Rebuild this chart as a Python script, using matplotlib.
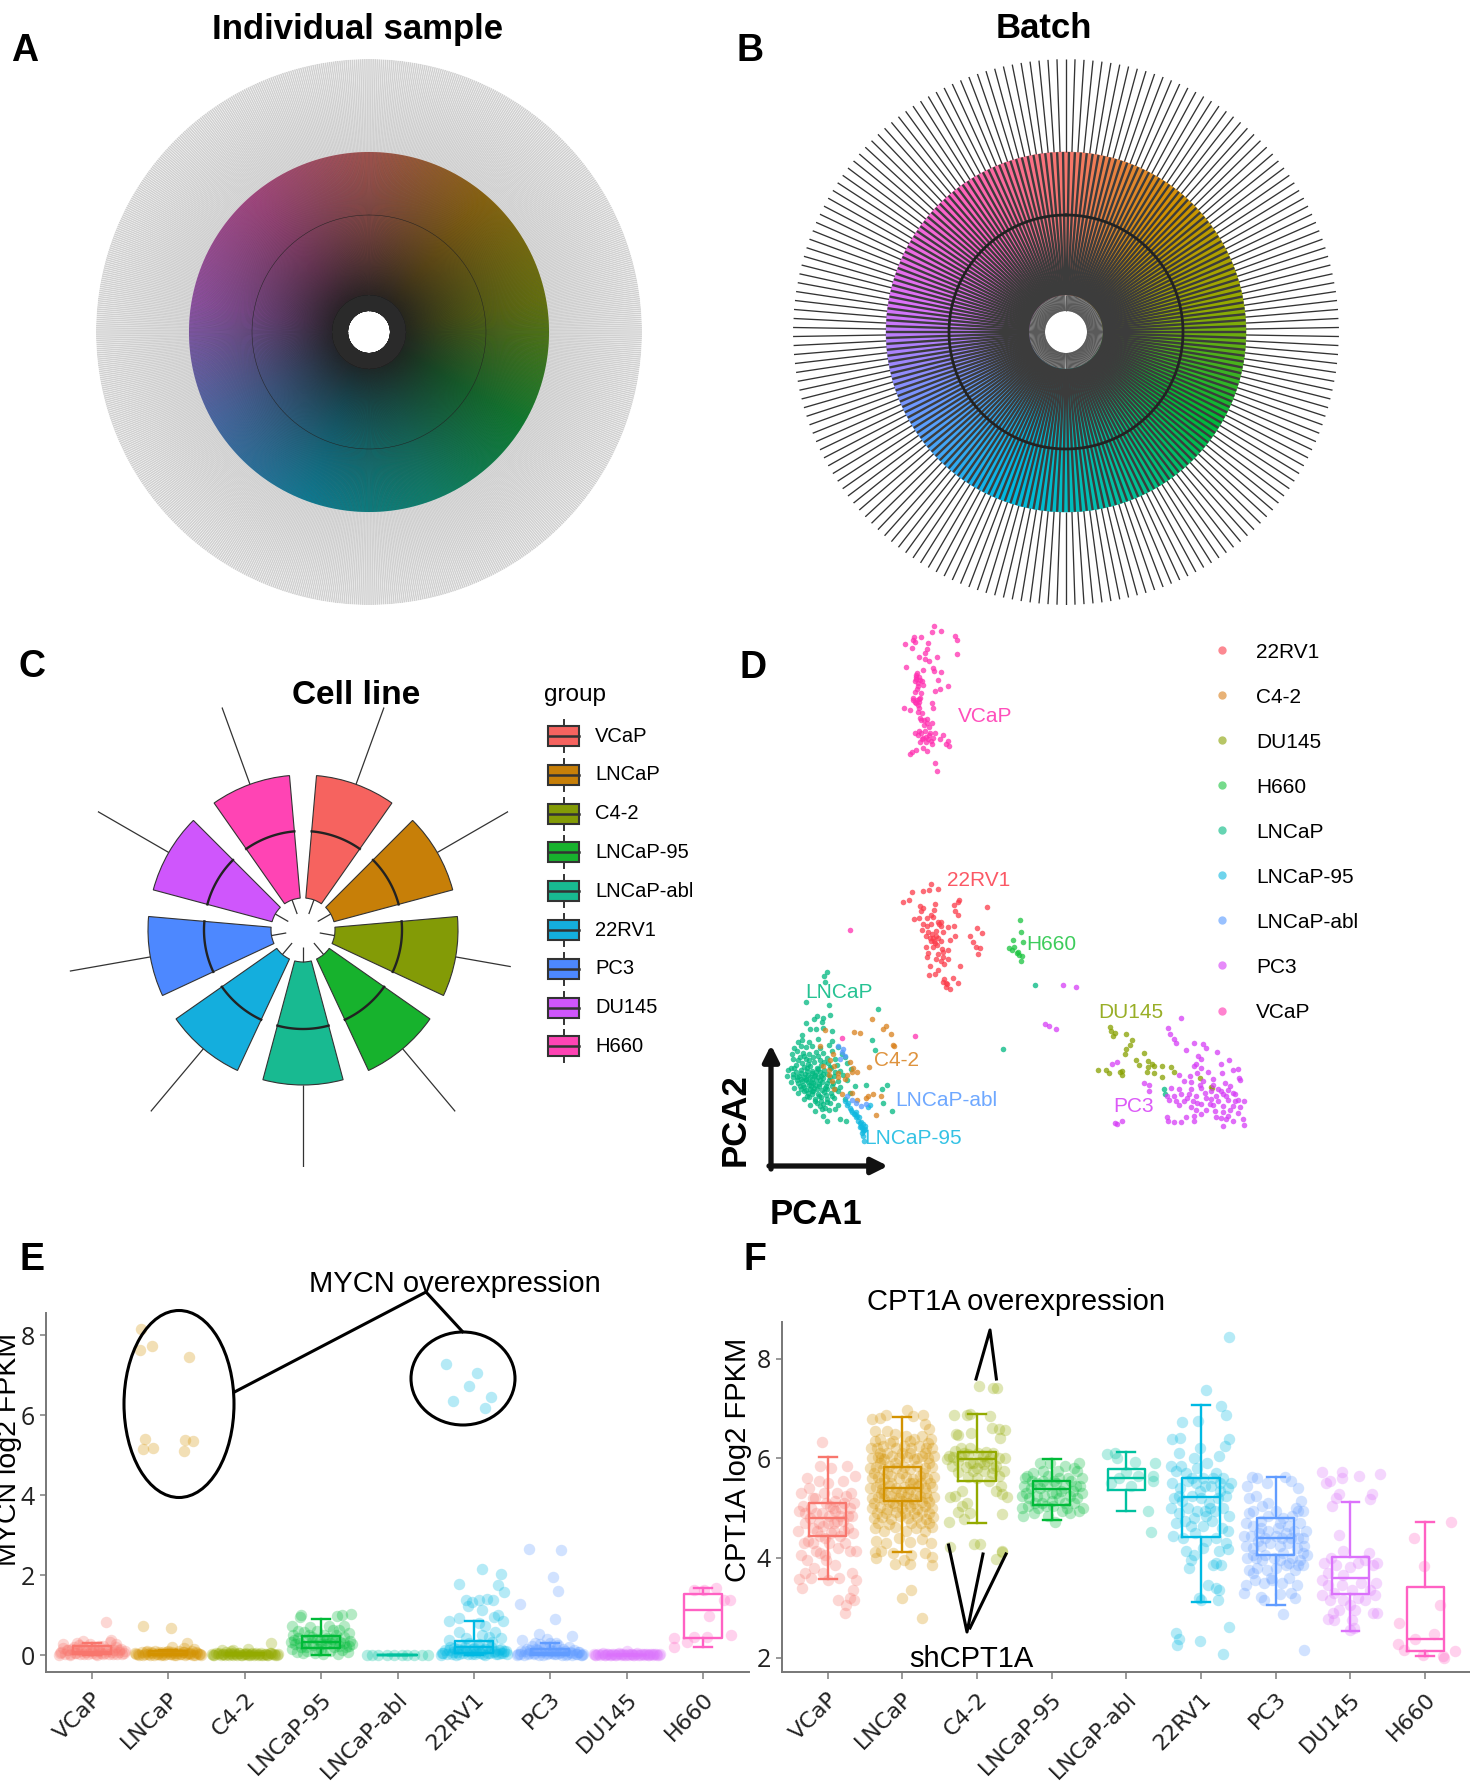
import numpy as np
import matplotlib
matplotlib.use("Agg")
import matplotlib.pyplot as plt
from matplotlib.colors import LinearSegmentedColormap
from matplotlib.patches import Ellipse, Rectangle

W, H = 1470, 1788
plt.rcParams['font.family'] = ['Liberation Sans', 'DejaVu Sans']

groups = ["VCaP", "LNCaP", "C4-2", "LNCaP-95", "LNCaP-abl", "22RV1", "PC3", "DU145", "H660"]
hue_colors = ["#F8766D", "#D39200", "#93AA00", "#00BA38", "#00C19F", "#00B9E3", "#619CFF", "#DB72FB", "#FF61C3"]
rose_colors = ["#F6635F", "#C77F08", "#839B06", "#17B22D", "#18BA91", "#14AEDD", "#4D88FF", "#CF56FC", "#FF44B4"]

# wheels: whisker low, box low, median, box high, whisker high
wheel_stats = [21, 37, 117, 180, 273]
rose_stats = [17, 32, 99, 155]
rose_whisk_hi = [237, 237, 211, 237, 237, 237, 237, 237, 237]
n_individual = 820
n_batch = 190
rose_angles = [20, 60, 100, 140, 180, 220, 260, 300, 340]
rose_width = 30

# panel D, group order of the legend
pca_groups = ["22RV1", "C4-2", "DU145", "H660", "LNCaP", "LNCaP-95", "LNCaP-abl", "PC3", "VCaP"]
pca_colors = ["#FB3B4A", "#D9801C", "#87A000", "#1BC43F", "#00B880", "#10B8E0", "#5599FF", "#D63DF6", "#FF30B0"]
pca_22rv1 = [(470,690),(485,703),(467,706),(455,708),(431,710),(426,733),(414,736),(527,733),(526,738),(517,745),(585,750),
    (447,748),(455,752),(478,742),(450,760),(476,757),(520,760),(525,770),(470,772),(462,778),(445,780),(435,782),(484,788),
    (490,790),(455,795),(470,795),(490,800),(518,800),(505,803),(565,805),(575,817),(452,810),(465,815),(480,812),(495,815),
    (550,825),(520,825),(460,825),(475,830),(485,832),(470,838),(490,840),(510,835),(478,845),(555,842),(563,855),(570,857),
    (460,855),(475,855),(492,860),(505,862),(465,870),(485,872),(495,880),(567,872),(462,880),(480,885),(490,890),(505,885),
    (530,904),(497,900),(468,905),(485,915),(478,925),(467,928),(497,937),(515,935),(495,945),(525,948),(503,952),(510,965),(500,958),
    (472,820),(480,825),(468,832),(476,838),(462,800),(486,795),(474,776),(483,850),(495,868),(500,948)]
pca_c42 = [(350,1042),(378,1060),(372,1068),(388,1082),(314,1076),(326,1078),(254,1072),(392,1110),(396,1114),(345,1168),
    (245,1112),(270,1135),(265,1150),(250,1165),(262,1175),(272,1165),(305,1155),(312,1170),(320,1182),(300,1190),(280,1195),
    (268,1205),(272,1225),(290,1240),(310,1235),(320,1255),(342,1245),(352,1240),(368,1245),(338,1250),(358,1293),(295,1200),
    (310,1180),(282,1185),(262,1190)]
pca_du145 = [(834,1063),(836,1075),(846,1078),(842,1088),(868,1083),(880,1098),(875,1110),(868,1122),(865,1135),(905,1132),
    (888,1150),(893,1162),(912,1152),(920,1160),(912,1168),(925,1165),(910,1180),(940,1165),(960,1168),(965,1180),(925,1185),
    (940,1195),(810,1175),(826,1175),(832,1185),(860,1178),(860,1190),(1018,1197),(1040,1220),(1042,1222),(855,1182)]
pca_h660 = [(651,783),(654,815),(637,836),(657,842),(630,858),(636,862),(645,870),(650,875),(655,878),(640,855),(653,892),(648,868)]
pca_lncap = [(258,920),(252,930),(255,945),(216,997),(262,1005),(238,1035),(232,1042),(250,1040),(248,1050),(265,1033),(216,1053),
    (224,1068),(236,1070),(251,1066),(268,1075),(207,1085),(362,1017),(350,1097),(356,1125),(617,1120),(683,955),(945,1225),(947,1238),
    (338,1215),(380,1215),(370,1225),(372,1262),(390,1282),(200,1102),(208,1098),(222,1104),(240,1096),(268,1101),(192,1118),(205,1112),
    (215,1117),(228,1113),(245,1118),(262,1110),(280,1116),(188,1133),(198,1127),(210,1131),(222,1135),(236,1128),(250,1132),(268,1126),
    (290,1133),(190,1147),(203,1142),(216,1148),(230,1143),(245,1150),(258,1144),(275,1148),(295,1142),(195,1163),(207,1157),(220,1161),
    (233,1156),(246,1164),(260,1158),(278,1163),(300,1157),(180,1177),(192,1172),(205,1176),(218,1171),(228,1178),(240,1173),(252,1177),
    (266,1172),(285,1178),(308,1173),(178,1192),(190,1187),(202,1191),(214,1186),(224,1193),(234,1188),(246,1192),(258,1187),(272,1191),
    (292,1188),(185,1207),(198,1202),(208,1206),(216,1201),(226,1208),(236,1203),(248,1207),(262,1202),(280,1206),(300,1203),(192,1222),
    (204,1217),(212,1221),(222,1216),(232,1223),(242,1218),(254,1222),(268,1217),(285,1221),(315,1218),(200,1237),(212,1232),(220,1236),
    (230,1231),(240,1238),(252,1233),(266,1237),(282,1232),(305,1236),(212,1252),(222,1247),(234,1251),(246,1246),(258,1253),(272,1248),
    (295,1252),(225,1267),(238,1262),(250,1266),(264,1261),(280,1267),(235,1282),(248,1277),(262,1281),(275,1278),(250,1295),(258,1308),
    (285,1305),(297,1308),(228,1185),(240,1195),(215,1200),(230,1210),(245,1180),(225,1225),(235,1215),(220,1190),(210,1215),(238,1170),
    (212,1168),(224,1166),(236,1182),(250,1186),(206,1183),(198,1195),(212,1195),(220,1208),(228,1200),(242,1212),(250,1198),(258,1210),
    (205,1225),(215,1228),(226,1218),(238,1226),(248,1228),(258,1226),(270,1210),(275,1225),(218,1243),(228,1240),(242,1245),(256,1242),
    (268,1245),(235,1258),(246,1256),(258,1260),(245,1270),(255,1275),(200,1150),(212,1140),(222,1150),(240,1140),(252,1155),(265,1168),
    (195,1180),(200,1210),(218,1178),(232,1192),(244,1203),(256,1218),(228,1232),(264,1195),(274,1182),(206,1200),(190,1195),(186,1170)]
pca_lncap95 = [(300,1268),(305,1275),(310,1285),(315,1292),(318,1300),(322,1308),(325,1315),(328,1322),(330,1328),(334,1332),
    (326,1325),(332,1318),(335,1330),(330,1340),(332,1348),(333,1362),(342,1272),(347,1268),(296,1258),(320,1295),(308,1280),(313,1290),
    (327,1312),(331,1335),(336,1322),(324,1300),(302,1262),(318,1285)]
pca_abl = [(282,1112),(292,1120),(296,1140),(290,1130),(286,1148),(300,1245),(318,1262),(328,1270),(338,1265),(310,1255)]
pca_pc3 = [(740,955),(765,958),(703,1057),(710,1062),(725,1070),(980,1040),(845,1315),(860,1308),(850,1318),(905,1210),(915,1215),
    (915,1230),(850,1155),(838,1160),(953,1067),(957,1082),(965,1095),(970,1105),(1005,1105),(1025,1108),(1030,1118),(990,1125),
    (1052,1128),(1078,1150),(1015,1140),(1020,1148),(1010,1160),(1005,1165),(1020,1170),(1060,1160),(1085,1175),(1095,1174),
    (975,1190),(998,1192),(1012,1185),(1035,1180),(1062,1185),(1098,1198),(1100,1203),(985,1205),(1000,1208),(1025,1205),(1045,1200),
    (1070,1210),(1080,1218),(960,1222),(975,1225),(1000,1225),(1020,1222),(1040,1230),(1055,1225),(1075,1228),(1090,1240),(950,1245),
    (965,1245),(980,1240),(995,1240),(1010,1245),(1030,1248),(1050,1245),(1065,1240),(1085,1235),(955,1255),(970,1258),(985,1258),
    (1003,1258),(1020,1265),(1038,1265),(1055,1258),(1075,1255),(1095,1255),(1108,1258),(1000,1272),(1010,1280),(1030,1280),(1045,1268),
    (1065,1270),(1085,1270),(1100,1272),(1080,1280),(1065,1285),(1095,1288),(1075,1295),(1050,1298),(1060,1302),(1005,1295),(990,1300),
    (950,1300),(953,1310),(965,1313),(980,1312),(1005,1310),(1065,1323),(1085,1310),(1105,1305),(1107,1320),(1072,1305),(1020,1290),
    (1018,1215),(1028,1235),(1045,1215),(1060,1230),(1072,1245),(1090,1258),(992,1250),(975,1268),(1012,1262),(1040,1252),(1048,1282)]
pca_vcap = [(476,15),(491,28),(472,31),(435,45),(434,52),(451,44),(519,42),(524,52),(465,59),(437,58),(418,63),(463,76),(432,72),
    (459,87),(446,96),(524,90),(482,96),(458,101),(466,106),(419,124),(454,130),(474,125),(477,132),(441,138),(440,150),(438,160),
    (443,165),(452,160),(490,135),(485,157),(505,172),(488,181),(478,185),(455,170),(441,180),(438,188),(450,190),(445,207),(433,205),
    (437,215),(444,222),(446,213),(473,217),(475,230),(416,229),(427,235),(444,240),(453,243),(449,255),(456,262),(462,270),(467,280),
    (458,290),(438,295),(443,300),(460,305),(478,295),(495,300),(489,310),(506,315),(500,325),(507,328),(472,325),(460,320),(447,318),
    (470,315),(455,335),(463,342),(440,340),(432,345),(427,350),(450,262),(478,375),(483,395),(466,300),(472,268),(440,155),(445,150),
    (441,210),(447,205),(305,810),(289,1092),(437,1088),(452,312),(465,310),(445,290),(439,145),(443,172),(448,158),(434,210),(439,218),
    (446,230),(462,258),(457,275),(450,296),(455,308),(468,295),(475,308)]
pca_points = [pca_22rv1, pca_c42, pca_du145, pca_h660, pca_lncap, pca_lncap95, pca_abl, pca_pc3, pca_vcap]
pca_draw_order = [0, 4, 1, 3, 5, 6, 2, 7, 8]
pca_label_text = ["22RV1", "C4-2", "DU145", "H660", "LNCaP", "LNCaP-95", "LNCaP-abl", "PC3", "VCaP"]

# panel E: jitter offset, value
mycn_low_x = [-.42,-.38,-.35,-.31,-.28,-.24,-.21,-.17,-.14,-.10,-.07,-.03,0,.03,.07,.10,.14,.17,.21,.24,.28,.31,.35,.38,.42]
mycn_low_x2 = [-.43,-.40,-.33,-.29,-.26,-.22,-.19,-.15,-.12,-.08,-.05,-.01,.02,.05,.08,.12,.15,.19,.22,.26,.29,.33,.36,.40,.43]
mycn_vcap_low = [.05,.18,.02,.12,.0,.2,.05,.25,.1,.02,.16,.28,.06,.2,.0,.14,.22,.06,.1,.32,.02,.2,.08,.15,.05]
mycn_vcap_low2 = [.0,.08,.12,.03,.15,.06,.12,.02,.18,.08,.04,.1,.15,.03,.1,.05,.02,.16,.04,.08,.14,.04,.12,.02,.1]
mycn_vcap_hi = [(.18,.82),(-.12,.35),(.25,.38),(-.38,.28),(.32,.28),(-.2,.3),(.1,.24)]
mycn_lncap_low = [.02,.0,.08,.03,.1,.0,.05,.1,.02,.0,.08,.04,.1,.02,.06,.0,.1,.03,.08,.02,.05,.1,.0,.06,.02]
mycn_lncap_low2 = [.06,.02,.0,.08,.03,.07,.0,.04,.09,.03,.0,.07,.02,.09,.0,.05,.02,.08,.0,.06,.02,.0,.07,.03,.0]
mycn_lncap_hi = [(-.33,.72),(.04,.68),(.24,.31),(.05,.2),(.2,.18),(.34,.15),(-.36,8.15),(-.37,7.63),(-.21,7.73),(.27,7.44),
    (-.31,5.39),(-.33,5.14),(-.20,5.18),(.22,5.38),(.33,5.34),(.20,5.09)]
mycn_c42_low = [.0,.05,.02,.0,.04,.08,.0,.03,.05,.01,.06,.0,.02,.04,.0,.05,.02,.0,.06,.01,.03,.0,.05,.02,.0]
mycn_c42_low2 = [.03,.0,.05,.02,.0,.03,.06,.0,.02,.05,.0,.03,.05,.0,.04,.0,.05,.03,.0,.04,.0,.05,.02,.0,.03]
mycn_c42_hi = [(.35,.31),(-.3,.14),(-.18,.1),(.05,.15),(-.15,.12)]
mycn_95 = [(-.38,.15),(-.4,.32),(-.37,.5),(-.38,.72),(-.26,1.01),(-.28,.95),(.21,.97),(.27,1.0),(.39,1.04),(.24,.63),(.3,.72),
    (.36,.55),(.38,.35),(.4,.28),(-.34,.28),(-.3,.42),(-.26,.2),(-.22,.58),(-.2,.35),(-.18,.1),(-.15,.7),(-.12,.45),(-.1,.25),
    (-.08,.05),(-.05,.6),(-.02,.35),(0,.15),(.02,.02),(.04,.5),(.07,.28),(.1,.72),(.12,.1),(.14,.4),(.17,.2),(.2,.5),(.22,.02),
    (.25,.32),(.28,.12),(.3,.45),(.33,.2),(.35,.08),(-.32,.08),(-.24,.05),(-.16,.5),(-.04,.15),(.08,.42),(.16,.62),(-.3,.6),
    (-.36,.38),(-.28,.3),(-.2,.2),(-.12,.32),(-.06,.4),(.0,.28),(.06,.38),(.12,.3),(.18,.36),(.24,.22),(.3,.3),(.36,.22)]
mycn_abl = [(-.4,0),(-.34,0),(-.26,0),(-.14,0),(-.04,0),(.06,0),(.12,0),(.22,0),(.32,0),(.4,0)]
mycn_22rv1_low = [.05,.12,.02,.2,.08,.0,.15,.25,.05,.1,.3,.02,.18,.08,.28,.12,.0,.22,.06,.32,.1,.02,.15,.05,.1]
mycn_22rv1_low2 = [.0,.06,.14,.03,.18,.07,.02,.12,.2,.04,.1,.16,.03,.22,.06,.02,.16,.05,.2,.08,.02,.14,.05,.1,.02]
mycn_22rv1_hi = [(-.37,7.27),(.04,7.05),(-.07,6.73),(-.28,6.34),(.22,6.45),(.15,6.17),(.10,2.16),(.36,2.02),(-.19,1.77),(.31,1.75),
    (.40,1.59),(-.11,1.38),(-.02,1.34),(.07,1.38),(.17,1.40),(.25,1.38),(-.08,1.22),(.10,1.12),(.32,1.01),(.38,.86),(-.33,.86),
    (-.20,.93),(.07,.81),(-.20,.59),(.28,.59),(.35,.42),(-.33,.37),(.10,.51),(-.1,.42),(.2,.45),(.14,.72),(.26,.95)]
mycn_pc3_low = [.02,.1,.0,.15,.05,.22,.03,.12,.28,.0,.18,.06,.3,.1,.02,.25,.08,.15,.0,.2,.05,.12,.02,.08,.0]
mycn_pc3_low2 = [.0,.04,.1,.02,.12,.05,.16,.0,.08,.2,.03,.14,.06,.02,.16,.05,.0,.1,.03,.07,.0,.04,.08,.0,.03]
mycn_pc3_hi = [(-.28,2.65),(.14,2.62),(.03,1.95),(.10,1.61),(-.40,1.29),(.06,.91),(.29,.47),(-.15,.52),(-.37,.38),(-.05,.4),(.08,.3),(-.2,.3)]
mycn_du145_low = [.0,.03,0,.05,.0,.02,.0,.04,.0,.06,.02,.0,.1,.0,.03,.0,.05,.0,.02,.04,.0,.03,.0,.02,.0]
mycn_du145_low2 = [.02,.0,.03,.0,.02,.0,.04,.0,.02,.0,.03,.0,.04,.02,.0,.03,.0,.02,.0,.03,.0,.02,.03,.0,.02]
mycn_h660 = [(-.12,1.64),(.17,1.67),(.35,1.38),(.07,.99),(-.38,.42),(-.38,.20),(-.21,.33),(.05,.46),(.36,.50),(.01,1.62),(-.12,.46),(.27,1.38)]
mycn_points = [list(zip(mycn_low_x, mycn_vcap_low)) + list(zip(mycn_low_x2, mycn_vcap_low2)) + mycn_vcap_hi,
    list(zip(mycn_low_x, mycn_lncap_low)) + list(zip(mycn_low_x2, mycn_lncap_low2)) + mycn_lncap_hi,
    list(zip(mycn_low_x, mycn_c42_low)) + list(zip(mycn_low_x2, mycn_c42_low2)) + mycn_c42_hi,
    mycn_95, mycn_abl,
    list(zip(mycn_low_x, mycn_22rv1_low)) + list(zip(mycn_low_x2, mycn_22rv1_low2)) + mycn_22rv1_hi,
    list(zip(mycn_low_x, mycn_pc3_low)) + list(zip(mycn_low_x2, mycn_pc3_low2)) + mycn_pc3_hi,
    list(zip(mycn_low_x, mycn_du145_low)) + list(zip(mycn_low_x2, mycn_du145_low2)), mycn_h660]
mycn_q1 = [.02, .0, .0, .18, .0, .05, .0, .0, .42]
mycn_med = [.08, .02, .01, .33, .0, .2, .05, .0, 1.14]
mycn_q3 = [.22, .1, .05, .47, .0, .36, .15, .0, 1.52]
mycn_wlo = [.0, .0, .0, .0, .0, .0, .0, .0, .2]
mycn_whi = [.3, .12, .06, .9, .0, .85, .3, .0, 1.67]

# panel F: jitter offset, value
cpt1a_vcap = [(-.38,3.58),(-.34,3.4),(-.36,4.05),(-.39,4.55),(-.38,4.95),(-.35,5.3),(-.28,5.6),(-.33,5.05),(-.3,4.7),(-.26,4.35),(-.27,3.95),
    (-.3,3.7),(-.22,3.6),(-.18,3.8),(-.15,4.15),(-.2,4.6),(-.22,5.0),(-.25,5.4),(-.17,5.2),(-.12,5.55),(-.1,5.85),(-.05,5.3),(-.08,4.9),
    (-.1,4.45),(-.1,4.1),(-.06,3.7),(0,3.55),(-.02,3.95),(.02,4.3),(.0,4.7),(.03,5.05),(.0,5.5),(.05,5.8),(-.08,6.33),(.08,4.55),(.1,4.95),
    (.12,5.3),(.1,3.85),(.14,4.2),(.15,3.6),(.2,4.75),(.22,5.1),(.2,5.55),(.26,5.85),(.25,5.25),(.3,5.0),(.28,4.6),(.24,4.3),(.3,4.15),
    (.33,4.85),(.36,5.1),(.37,5.65),(.34,4.5),(.38,4.15),(.33,3.7),(.38,3.55),(.34,3.35),(.35,3.15),(.14,3.15),(.25,3.05),(.24,2.9),(.3,3.2),
    (.05,4.5),(-.04,4.05),(-.15,4.9),(.16,4.45),(-.3,4.9),(-.02,5.1),(-.12,4.7),(.12,4.75),(-.2,4.3),(.07,5.0),(-.06,4.65),(.18,5.0),
    (-.32,4.3),(-.24,4.8),(-.14,4.55),(.02,4.85),(.08,4.7),(.16,4.85),(.22,4.55),(.28,4.85),(-.04,4.4),(-.2,5.2),(.1,5.15),(.32,5.3)]
cpt1a_lncap = [(-.4,6.8),(-.3,6.82),(-.22,6.88),(.06,6.98),(.15,6.85),(.28,6.88),(.3,6.7),(.36,6.6),(-.36,6.55),(-.3,6.4),(-.2,6.55),(-.1,6.5),
    (.05,6.45),(.16,6.4),(.27,6.45),(.38,6.4),(-.42,6.2),(-.34,6.2),(-.26,6.25),(-.16,6.3),(-.08,6.2),(.02,6.25),(.12,6.2),(.22,6.25),(.32,6.2),
    (.4,6.2),(-.4,6.0),(-.32,6.02),(-.24,5.98),(-.14,6.05),(-.04,6.0),(.06,6.02),(.16,5.98),(.26,6.05),(.34,6.0),(.42,6.05),(-.43,5.8),(-.35,5.82),
    (-.26,5.78),(-.18,5.85),(-.08,5.8),(.02,5.82),(.1,5.78),(.2,5.85),(.3,5.8),(.4,5.82),(-.41,5.6),(-.33,5.62),(-.24,5.58),(-.15,5.65),(-.05,5.6),
    (.05,5.62),(.14,5.58),(.24,5.65),(.33,5.6),(.42,5.62),(-.43,5.4),(-.35,5.42),(-.27,5.38),(-.18,5.45),(-.08,5.4),(.02,5.42),(.11,5.38),(.21,5.45),
    (.3,5.4),(.4,5.42),(-.41,5.2),(-.33,5.22),(-.24,5.18),(-.15,5.25),(-.05,5.2),(.05,5.22),(.14,5.18),(.24,5.25),(.33,5.2),(.42,5.22),(-.4,5.0),
    (-.3,5.02),(-.2,4.98),(-.1,5.05),(.0,5.0),(.1,5.02),(.2,4.98),(.3,5.05),(.4,5.0),(-.38,4.8),(-.27,4.82),(-.15,4.78),(-.03,4.85),(.08,4.8),(.2,4.82),
    (.32,4.78),(.41,4.82),(-.36,4.6),(-.24,4.55),(-.1,4.62),(.05,4.55),(.18,4.6),(.3,4.55),(.4,4.62),(-.35,4.35),(-.22,4.3),(-.05,4.4),(.1,4.32),(.26,4.38),
    (.38,4.3),(-.36,4.12),(-.28,4.15),(-.12,4.1),(.12,4.05),(.3,4.1),(.4,4.02),(-.35,4.0),(-.1,3.88),(.1,3.88),(.4,3.85),(.02,3.95),(-.28,6.0),(-.15,5.5),
    (.14,5.5),(.25,5.5),(-.25,5.3),(.08,5.3),(.32,5.3),(-.12,5.1),(.16,5.1),(-.3,6.1),(.3,6.1),(.0,5.15),(.12,3.35),(.0,3.2),(.27,2.79),
    (-.38,5.7),(-.3,5.5),(-.2,5.7),(-.1,5.3),(.0,5.7),(.1,5.5),(.19,5.3),(.28,5.7),(.37,5.5),(-.38,5.1),(-.28,5.3),(-.18,5.12),(-.02,5.3),(.08,5.1),(.26,5.12),
    (.36,5.12),(-.34,4.9),(-.22,4.9),(-.08,4.92),(.04,4.9),(.16,4.9),(.26,4.92),(.36,4.9),(-.3,5.9),(-.2,6.1),(-.1,5.9),(.1,6.1),(.2,6.0),(.36,5.9),(.0,6.1),(-.36,6.35),
    (-.12,6.35),(.1,6.35),(.34,6.3),(-.32,4.7),(-.18,4.68),(.12,4.7),(.25,4.7),(.36,4.7)]
cpt1a_c42 = [(.03,7.45),(.22,7.42),(.27,7.42),(-.31,6.88),(-.13,6.88),(-.1,6.9),(.17,6.85),(.2,6.62),(.3,6.6),(.38,6.58),(-.28,6.5),(-.25,6.48),(-.08,6.52),(.31,6.42),
    (-.1,6.2),(-.22,6.2),(-.3,6.15),(-.38,6.05),(-.4,5.98),(-.26,5.95),(-.18,6.1),(.02,6.1),(.12,6.12),(.22,6.1),(.3,6.0),(.37,6.0),(-.34,5.85),(-.1,5.9),(.04,5.92),
    (.14,5.95),(.26,5.85),(.36,5.75),(-.25,5.72),(-.05,5.75),(.1,5.75),(.2,5.7),(.3,5.65),(-.12,5.62),(.0,5.6),(.16,5.55),(.32,5.45),(.26,5.35),(.34,5.28),(.4,5.22),
    (-.3,5.25),(-.36,5.22),(-.2,5.35),(-.14,5.1),(-.2,5.05),(-.26,4.92),(-.1,4.9),(-.18,4.78),(.33,4.88),(-.38,4.72),(-.04,4.28),(.04,4.28),(-.36,4.22),(.33,4.15),(.34,4.12),(.26,3.97),
    (-.32,6.02),(-.22,6.05),(-.12,6.08),(.08,6.05),(.18,6.0),(-.05,5.9),(.1,5.88),(.22,5.8),(-.15,5.82),(.0,5.8)]
cpt1a_95 = [(-.38,4.85),(-.4,5.0),(-.4,5.25),(-.37,5.45),(-.33,5.65),(-.25,5.7),(-.15,5.9),(-.12,5.75),(-.3,5.2),(-.32,5.05),(-.24,4.9),(-.2,5.25),(-.2,5.5),(-.15,5.4),
    (-.13,5.1),(-.05,4.85),(-.05,5.65),(-.02,5.9),(.0,5.3),(.02,5.05),(.05,4.72),(.06,5.5),(.08,5.75),(.1,5.2),(.14,4.95),(.16,5.4),(.18,5.85),(.22,5.6),(.24,5.25),(.25,4.9),
    (.3,5.1),(.32,5.45),(.34,5.75),(.36,5.9),(.4,5.6),(.4,5.3),(.42,5.0),(.37,4.95),(.3,5.8),(-.1,5.25),(-.06,5.45),(-.28,5.4),(.1,5.6),(.18,5.1),(-.18,5.0),(.03,5.55),
    (-.34,5.3),(-.26,5.55),(-.22,5.1),(-.08,5.05),(.0,5.15),(.12,5.35),(.2,5.0),(.28,5.35),(.34,5.2),(.38,5.45),(.06,5.3),(-.12,5.55),(.26,5.55),(-.36,5.6)]
cpt1a_abl = [(-.26,6.08),(-.15,6.1),(-.12,6.0),(.12,5.92),(.38,5.9),(.35,5.65),(.35,5.55),(.29,4.95),(.33,4.53),(-.1,5.6),(.0,5.72),(.06,5.45),(-.2,5.5),(.15,5.65)]
cpt1a_22rv1 = [(.38,8.44),(.07,7.37),(.27,7.05),(.34,6.88),(-.26,6.73),(-.04,6.75),(.38,6.38),(.32,6.25),(-.39,6.38),(-.28,6.42),(-.3,6.1),(-.02,6.2),(.24,6.05),(-.4,5.85),
    (-.34,5.75),(-.27,5.85),(-.1,6.0),(-.05,5.8),(.08,5.9),(.2,5.7),(.3,5.6),(.4,5.5),(-.39,5.5),(-.28,5.4),(-.18,5.55),(-.07,5.5),(.03,5.6),(.13,5.45),(.25,5.35),(.36,5.4),
    (-.36,5.2),(-.25,5.15),(-.12,5.25),(.0,5.2),(.1,5.1),(.22,5.2),(.34,5.25),(-.4,5.0),(-.3,4.9),(-.18,5.0),(-.05,4.95),(.07,4.85),(.18,4.95),(.3,5.0),(.38,4.85),(-.34,4.7),
    (-.22,4.75),(-.1,4.8),(.02,4.65),(.14,4.75),(.28,4.6),(.36,4.55),(-.38,4.45),(-.24,4.4),(-.08,4.5),(.06,4.35),(.2,4.4),(.34,4.3),(-.2,4.15),(-.1,4.05),(.02,4.2),(.24,4.15),
    (.36,4.18),(-.16,3.8),(-.14,3.95),(.16,3.85),(.2,3.9),(.27,3.85),(.09,3.45),(.2,3.4),(.24,3.35),(.0,3.15),(-.03,3.2),(.22,3.15),(.37,2.62),(-.34,2.5),(-.3,2.38),(-.32,2.25),(-.01,2.33),(.29,2.08),
    (-.2,5.7),(.05,5.45),(.16,5.6),(-.12,5.6),(-.02,5.35),(.26,5.5),(-.3,5.25),(.12,5.0),(-.14,4.65),(.05,4.95)]
cpt1a_pc3 = [(-.38,5.45),(-.32,5.62),(-.25,5.6),(-.12,5.5),(-.1,5.1),(.13,5.63),(.2,5.55),(.3,5.4),(.34,5.15),(.27,5.0),(.37,4.95),(-.36,5.2),(-.26,5.25),(-.18,5.05),(-.3,4.95),
    (-.4,4.7),(-.3,4.65),(-.2,4.75),(-.1,4.85),(.0,4.95),(.1,4.8),(.22,4.85),(.32,4.7),(.4,4.55),(-.42,4.45),(-.33,4.45),(-.22,4.5),(-.1,4.55),(.03,4.6),(.14,4.5),(.25,4.55),(.36,4.4),
    (-.4,4.25),(-.3,4.2),(-.2,4.25),(-.08,4.3),(.05,4.25),(.16,4.3),(.28,4.2),(.38,4.25),(-.38,4.0),(-.26,4.0),(-.14,4.05),(-.02,4.0),(.1,4.1),(.22,4.0),(.33,3.95),(.42,4.05),(-.36,3.75),
    (-.25,3.8),(-.12,3.75),(.0,3.8),(.14,3.85),(.26,3.75),(.36,3.85),(-.4,3.45),(-.28,3.55),(-.16,3.5),(-.05,3.55),(.08,3.5),(.18,3.6),(.28,3.45),(-.42,3.3),(-.2,3.22),(-.16,3.15),(.06,3.28),
    (.26,3.2),(.1,2.88),(.38,2.16),(-.06,3.6),(.2,3.3),(-.3,3.7),(-.36,4.9),(-.24,4.35),(-.14,4.4),(.0,4.45),(.09,4.4),(.2,4.4),(.3,4.4),(.36,4.1),(-.3,4.05),(-.18,3.95),(.06,3.95),(.18,3.9),(.3,3.85),(-.2,4.6),(.06,4.7),(.16,4.65),(.3,4.95)]
cpt1a_du145 = [(-.38,5.72),(-.33,5.5),(-.27,5.55),(-.11,5.72),(-.12,5.6),(.12,5.65),(.39,5.68),(-.19,5.2),(-.25,5.05),(-.15,5.28),(.26,5.18),(.29,5.28),(-.15,4.47),(-.1,4.15),(.25,4.1),
    (-.36,3.9),(-.3,3.7),(-.26,4.0),(-.2,3.85),(-.1,3.65),(.0,3.82),(.1,3.9),(.2,3.95),(.3,3.85),(.35,3.9),(-.38,3.55),(-.3,3.45),(-.22,3.3),(-.12,3.45),(.02,3.35),(.14,3.5),(.26,3.35),(.34,3.5),
    (-.38,3.25),(-.28,3.15),(-.1,3.15),(.0,3.05),(.1,3.2),(.2,3.15),(.33,3.25),(-.24,2.9),(-.16,2.95),(.02,2.75),(.06,2.95),(.3,2.9),(.35,2.9),(-.3,2.78),(-.22,2.75),(.05,2.6),(.0,2.55)]
cpt1a_h660 = [(.35,4.73),(-.15,4.4),(-.02,3.83),(.2,3.05),(-.35,2.7),(-.36,2.28),(-.28,2.15),(-.13,2.38),(.12,2.47),(.24,2.03),(.4,2.13),(-.03,2.05),(.25,2.0)]
cpt1a_points = [cpt1a_vcap, cpt1a_lncap, cpt1a_c42, cpt1a_95, cpt1a_abl, cpt1a_22rv1, cpt1a_pc3, cpt1a_du145, cpt1a_h660]
cpt1a_q1 = [4.45, 5.15, 5.54, 5.07, 5.37, 4.43, 4.07, 3.28, 2.13]
cpt1a_med = [4.80, 5.40, 5.98, 5.38, 5.60, 5.23, 4.40, 3.60, 2.38]
cpt1a_q3 = [5.10, 5.82, 6.13, 5.54, 5.79, 5.60, 4.80, 4.02, 3.42]
cpt1a_wlo = [3.57, 4.12, 4.70, 4.77, 4.94, 3.12, 3.06, 2.54, 2.03]
cpt1a_whi = [6.03, 6.83, 6.90, 5.98, 6.13, 7.07, 5.63, 5.12, 4.73]


def px_axes(left, top, right, bottom, **kw):
    return fig.add_axes([left / W, 1 - bottom / H, (right - left) / W, (bottom - top) / H], **kw)


def draw_wheel(cx, cy, n, stats, spoke_color, spoke_lw, sep_color, sep_lw, low_color, low_lw, med_lw):
    wlo, blo, med, bhi, whi = stats
    ax = px_axes(cx - whi, cy - whi, cx + whi, cy + whi, projection='polar')
    ax.set_theta_zero_location('N')
    ax.set_theta_direction(-1)
    ax.axis('off')
    step = 2 * np.pi / n
    theta = np.arange(n) * step
    fills = wheel_cmap(theta / (2 * np.pi))
    ax.vlines(theta, wlo, blo, colors=low_color, lw=low_lw)
    ax.vlines(theta, bhi, whi, colors=spoke_color, lw=spoke_lw)
    # the fine separators are drawn after the fills so they pile up towards the hub
    ax.bar(theta, bhi - blo, width=step, bottom=blo, color=fills, edgecolor=fills, linewidth=0.4)
    ax.vlines(theta + step / 2, blo, bhi, colors=[sep_color], lw=sep_lw)
    circle = np.linspace(0, 2 * np.pi, 400)
    ax.plot(circle, np.full_like(circle, med), color='#222222', lw=med_lw)
    ax.set_ylim(0, whi)


def draw_jitter(ax, points, q1, med, q3, wlo, whi):
    for i, pts in enumerate(points):
        xy = np.array(pts, dtype=float)
        ax.scatter(i + xy[:, 0], xy[:, 1], s=68, color=hue_colors[i], alpha=0.29, linewidths=0, clip_on=False, zorder=2)
    stats = [dict(med=med[i], q1=q1[i], q3=q3[i], whislo=wlo[i], whishi=whi[i], fliers=[]) for i in range(9)]
    art = ax.bxp(stats, positions=range(9), widths=0.5, capwidths=0.24, showfliers=False, manage_ticks=False, zorder=3)
    for key in ['boxes', 'medians']:
        for i, line in enumerate(art[key]):
            line.set_color(hue_colors[i])
            line.set_linewidth(1.7)
    for key in ['whiskers', 'caps']:
        for i, line in enumerate(art[key]):
            line.set_color(hue_colors[i // 2])
            line.set_linewidth(1.7)
    ax.set_xticks(range(9))
    ax.set_xticklabels(groups, rotation=45, ha='right', va='top', rotation_mode='anchor', family='DejaVu Sans', fontsize=16, color='#222222')
    ax.tick_params(axis='x', length=5, width=1.2, color='#888888', pad=7)
    ax.tick_params(axis='y', length=4, width=1.2, color='#888888', labelsize=18, labelcolor='#222222', pad=4)
    for lab in ax.get_yticklabels():
        lab.set_family('Open Sans')
    for side in ['top', 'right']:
        ax.spines[side].set_visible(False)
    for side in ['left', 'bottom']:
        ax.spines[side].set_color('#777777')
        ax.spines[side].set_linewidth(1.4)
    ax.patch.set_alpha(0)


fig = plt.figure(figsize=(W / 100, H / 100), dpi=100, facecolor='white')
wheel_cmap = LinearSegmentedColormap.from_list('hue_wheel', hue_colors + hue_colors[:1])

# A and B
draw_wheel(369, 332, n_individual, wheel_stats, '#d0d0d0', 1.1, (0.13, 0.13, 0.13, 0.46), 1.0, '#2a2a2a', 1.0, 0.35)
draw_wheel(1066, 332, n_batch, wheel_stats, '#333333', 0.95, '#3c3c3c', 1.7, '#5a5a5a', 0.9, 2.0)

# C
wlo, blo, med, bhi = rose_stats
rmax = max(rose_whisk_hi)
ax_c = px_axes(303 - rmax, 930 - rmax, 303 + rmax, 930 + rmax, projection='polar')
ax_c.set_theta_zero_location('N')
ax_c.set_theta_direction(-1)
ax_c.axis('off')
rose_theta = np.deg2rad(rose_angles)
rose_w = np.deg2rad(rose_width)
ax_c.vlines(rose_theta, wlo, blo, colors='#333333', lw=0.9)
ax_c.vlines(rose_theta, bhi, rose_whisk_hi, colors='#333333', lw=0.9)
ax_c.bar(rose_theta, bhi - blo, width=rose_w, bottom=blo, color=rose_colors, edgecolor='#333333', linewidth=0.8)
for t in rose_theta:
    arc = np.linspace(t - rose_w / 2, t + rose_w / 2, 40)
    ax_c.plot(arc, np.full_like(arc, med), color='#222222', lw=1.7)
ax_c.set_ylim(0, rmax)

# D
ax_d = px_axes(700, 620, 1470, 1220)
ax_d.set_xlim(0, 1568)
ax_d.set_ylim(1568, 0)
ax_d.axis('off')
for i in pca_draw_order:
    xy = np.array(pca_points[i], dtype=float)
    ax_d.scatter(xy[:, 0], xy[:, 1], s=16, color=pca_colors[i], alpha=0.75, linewidths=0)

# E
ax_e = px_axes(46, 1313, 749, 1672)
draw_jitter(ax_e, mycn_points, mycn_q1, mycn_med, mycn_q3, mycn_wlo, mycn_whi)
ax_e.set_xlim(-0.6, 8.6)
ax_e.set_ylim(-0.42, 8.55)
ax_e.set_yticks([0, 2, 4, 6, 8])

# F
ax_f = px_axes(782, 1322, 1470, 1672)
draw_jitter(ax_f, cpt1a_points, cpt1a_q1, cpt1a_med, cpt1a_q3, cpt1a_wlo, cpt1a_whi)
ax_f.set_xlim(-0.61, 8.6)
ax_f.set_ylim(1.71, 8.74)
ax_f.set_yticks([2, 4, 6, 8])

# text, legends and callouts are laid out in pixels on a full figure overlay
ov = fig.add_axes([0, 0, 1, 1], zorder=10)
ov.set_xlim(0, W)
ov.set_ylim(H, 0)
ov.axis('off')
ov.patch.set_alpha(0)

panel_letters = ["A", "B", "C", "D", "E", "F"]
letter_x = [25, 750, 32, 753, 32, 755]
letter_y = [51, 51, 667, 668, 1260, 1260]
for s, x, y in zip(panel_letters, letter_x, letter_y):
    ov.text(x, y, s, fontsize=27, fontweight='bold', ha='center', va='center')
ov.text(358, 29, "Individual sample", fontsize=25, fontweight='bold', ha='center', va='center')
ov.text(1044, 29, "Batch", fontsize=25, fontweight='bold', ha='center', va='center')
ov.text(356, 695, "Cell line", fontsize=24, fontweight='bold', ha='center', va='center')

# C legend
ov.text(544, 695, "group", fontsize=17.5, va='center')
for i, name in enumerate(groups):
    y = 736 + i * 38.8
    ov.plot([564, 564], [y - 16, y + 16], color='#333333', lw=1.4)
    ov.add_patch(Rectangle((548, y - 10), 31, 20, facecolor=rose_colors[i], edgecolor='#333333', lw=1.5, zorder=3))
    ov.plot([548, 579], [y, y], color='#333333', lw=1.8, zorder=4)
    ov.text(595, y, name, fontsize=14.5, va='center')

# D legend and group labels
for i, name in enumerate(pca_groups):
    y = 650 + i * 45.07
    ov.scatter([1222], [y], s=36, color=pca_colors[i], alpha=0.6, linewidths=0)
    ov.text(1256, y + 2, name, fontsize=15, va='center')
label_x = [979, 897, 1131, 1051, 839, 913, 946, 1134, 985]
label_y = [880, 1061, 1013, 945, 992, 1138, 1100, 1106, 717]
for i, name in enumerate(pca_label_text):
    ov.text(label_x[i], label_y[i], name, fontsize=15, color=pca_colors[i], alpha=0.85, ha='center', va='center')

ov.annotate("", xy=(771, 1045), xytext=(771, 1169), arrowprops=dict(arrowstyle='-|>', lw=3.8, color='#111111', mutation_scale=24, shrinkA=0, shrinkB=0))
ov.annotate("", xy=(888, 1166), xytext=(769, 1166), arrowprops=dict(arrowstyle='-|>', lw=3.8, color='#111111', mutation_scale=24, shrinkA=0, shrinkB=0))
ov.text(816, 1214, "PCA1", fontsize=25, fontweight='bold', ha='center', va='center')
ov.text(735, 1120, "PCA2", fontsize=25, fontweight='bold', rotation=90, ha='center', va='center')

# E callouts, the y label runs against the figure edge as in the source
ov.text(9, 1449, "MYCN log2 FPKM", fontsize=20.5, rotation=90, ha='center', va='center')
ov.text(455, 1284, "MYCN overexpression", fontsize=21, ha='center', va='center')
ov.add_patch(Ellipse((179, 1404), 110, 187, fill=False, edgecolor='black', lw=2.2))
ov.add_patch(Ellipse((463, 1378.5), 104, 93, fill=False, edgecolor='black', lw=2.2))
ov.plot([234.5, 426, 462.5], [1392, 1292, 1331.6], color='black', lw=2.2)

# F callouts
ov.text(738, 1460, "CPT1A log2 FPKM", fontsize=21, rotation=90, ha='center', va='center')
ov.text(1016, 1302, "CPT1A overexpression", fontsize=21, ha='center', va='center')
ov.text(971, 1659, "shCPT1A", fontsize=21, ha='center', va='center')
ov.plot([976, 990, 996.4], [1379, 1330, 1379], color='black', lw=2.2)
ov.plot([948.6, 967, 983], [1545, 1632, 1554], color='black', lw=2.2)
ov.plot([970, 1006], [1628, 1554], color='black', lw=2.2)

fig.savefig("out.png", dpi=100)
